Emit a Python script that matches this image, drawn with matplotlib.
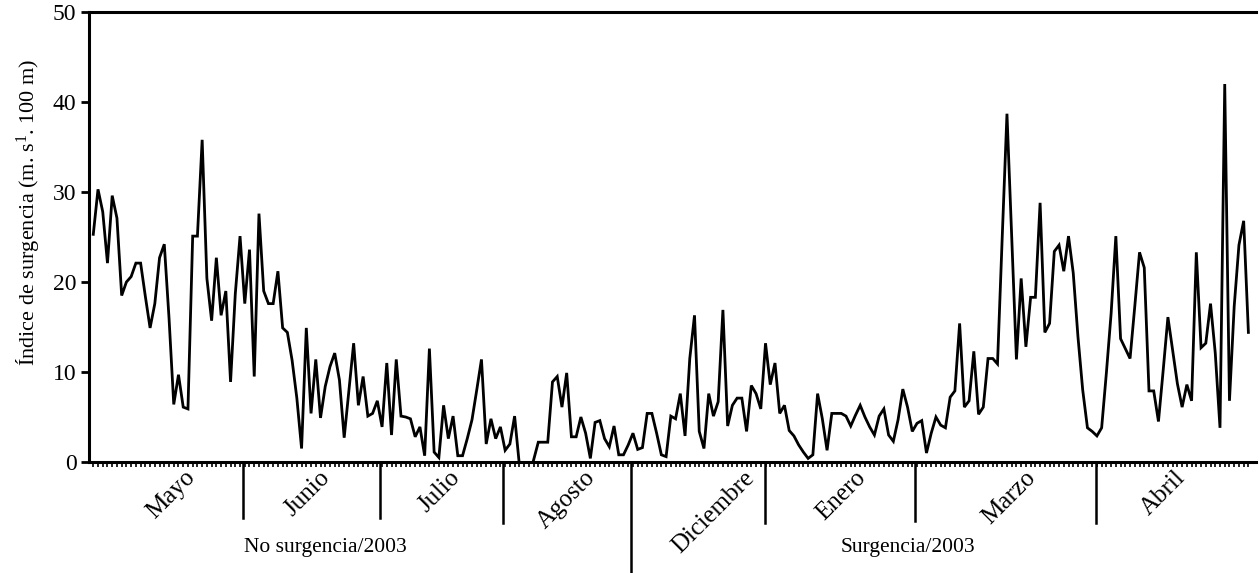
"""Daily upwelling index, non-upwelling vs upwelling months of 2003."""

import matplotlib.pyplot as plt
import matplotlib.transforms as mtransforms
import numpy as np

plt.rcParams["font.family"] = ["Liberation Serif", "DejaVu Serif"]
plt.rcParams["mathtext.fontset"] = "custom"
plt.rcParams["mathtext.rm"] = "Liberation Serif"
plt.rcParams["mathtext.it"] = "Liberation Serif:italic"

# daily values (one per day, left to right)
upwelling_index = [
    25.3, 30.3, 27.8, 22.1, 29.6, 27.1, 18.5, 20.0, 20.6, 22.1,
    22.1, 18.4, 14.9, 17.6, 22.7, 24.2, 16.0, 6.4, 9.7, 6.1,
    5.9, 25.1, 25.1, 35.8, 20.4, 15.7, 22.7, 16.3, 19.0, 8.9,
    18.7, 25.1, 17.6, 23.6, 9.5, 27.6, 19.0, 17.6, 17.6, 21.2,
    14.9, 14.4, 11.3, 7.1, 1.5, 14.9, 5.4, 11.4, 4.9, 8.4,
    10.6, 12.1, 9.1, 2.7, 8.0, 13.2, 6.3, 9.5, 5.1, 5.4,
    6.8, 3.9, 11.0, 3.0, 11.4, 5.1, 5.0, 4.8, 2.8, 3.9,
    0.7, 12.6, 1.1, 0.5, 6.3, 2.6, 5.1, 0.7, 0.7, 2.6,
    4.7, 8.0, 11.4, 2.0, 4.8, 2.6, 3.9, 1.3, 2.0, 5.1,
    -0.3, -2.0, -2.0, 0.2, 2.2, 2.2, 2.2, 8.9, 9.5, 6.1,
    9.9, 2.8, 2.8, 5.0, 3.2, 0.4, 4.4, 4.6, 2.6, 1.7,
    4.0, 0.8, 0.8, 1.9, 3.2, 1.4, 1.6, 5.4, 5.4, 3.2,
    0.8, 0.6, 5.1, 4.8, 7.6, 2.9, 11.5, 16.3, 3.4, 1.5,
    7.6, 5.1, 6.7, 16.9, 4.0, 6.3, 7.1, 7.1, 3.4, 8.5,
    7.6, 5.9, 13.2, 8.6, 11.0, 5.4, 6.3, 3.5, 2.9, 1.9,
    1.1, 0.4, 0.8, 7.6, 4.8, 1.3, 5.4, 5.4, 5.4, 5.1,
    4.0, 5.2, 6.3, 5.0, 3.9, 3.0, 5.1, 5.9, 3.0, 2.3,
    4.7, 8.1, 6.1, 3.4, 4.3, 4.6, 1.0, 3.2, 5.0, 4.1,
    3.8, 7.2, 7.9, 15.4, 6.1, 6.8, 12.3, 5.3, 6.1, 11.5,
    11.5, 10.9, 25.0, 38.7, 25.0, 11.4, 20.4, 12.8, 18.3, 18.3,
    28.8, 14.4, 15.4, 23.4, 24.1, 21.2, 25.1, 21.0, 13.9, 8.0,
    3.8, 3.4, 2.9, 3.8, 9.9, 16.5, 25.1, 13.7, 12.6, 11.5,
    17.3, 23.3, 21.6, 7.9, 7.9, 4.5, 10.2, 16.1, 12.4, 8.7,
    6.1, 8.6, 6.8, 23.3, 12.7, 13.2, 17.6, 12.1, 3.8, 42.0,
    6.8, 17.3, 24.1, 26.8, 14.4,
]

months = ["Mayo", "Junio", "Julio", "Agosto", "Diciembre", "Enero", "Marzo", "Abril"]
month_label_x = [22.5, 51.0, 78.5, 107.0, 140.5, 164.0, 200.0, 231.5]
month_bounds = [31.6, 60.6, 86.5, 113.6, 141.9, 173.6, 211.8]
bound_lengths = [0.125, 0.125, 0.135, 0.245, 0.135, 0.13, 0.135]
periods = ["No surgencia/2003", "Surgencia/2003"]
period_x = [49.0, 172.0]

fig = plt.figure(figsize=(12.59, 5.73), dpi=100)
ax = fig.add_axes([0.0707, 0.1937, 0.9269, 0.7853])

days = np.arange(len(upwelling_index))
ax.plot(days, upwelling_index, color="black", lw=2.0, solid_joinstyle="miter")

ax.set_xlim(-0.9, 245.6)
ax.set_ylim(0, 50)
ax.set_yticks(range(0, 51, 10))
ax.set_xticks([])
ax.set_xticks(days, minor=True)
ax.tick_params(axis="y", direction="out", length=6, width=2, labelsize=17, pad=3)
ax.tick_params(axis="x", which="minor", direction="out", length=3.5, width=1.2)

for side in ("left", "top", "bottom"):
    ax.spines[side].set_linewidth(2.2)
ax.spines["right"].set_visible(False)

trans = mtransforms.blended_transform_factory(ax.transData, ax.transAxes)
for pos, length in zip(month_bounds, bound_lengths):
    ax.plot([pos, pos], [0, -length], color="black", lw=1.8, transform=trans, clip_on=False)

for name, pos in zip(months, month_label_x):
    ax.text(pos, -0.01, name, rotation=45, ha="right", va="top", fontsize=18, transform=trans)

for name, pos in zip(periods, period_x):
    ax.text(pos, -0.19, name, ha="center", va="center", fontsize=15.5, transform=trans)

fig.text(0.022, 0.63, r"Índice de surgencia (m. s$^{1}$. 100 m)", rotation=90,
         ha="center", va="center", fontsize=16)

fig.savefig("out.png", dpi=100)
